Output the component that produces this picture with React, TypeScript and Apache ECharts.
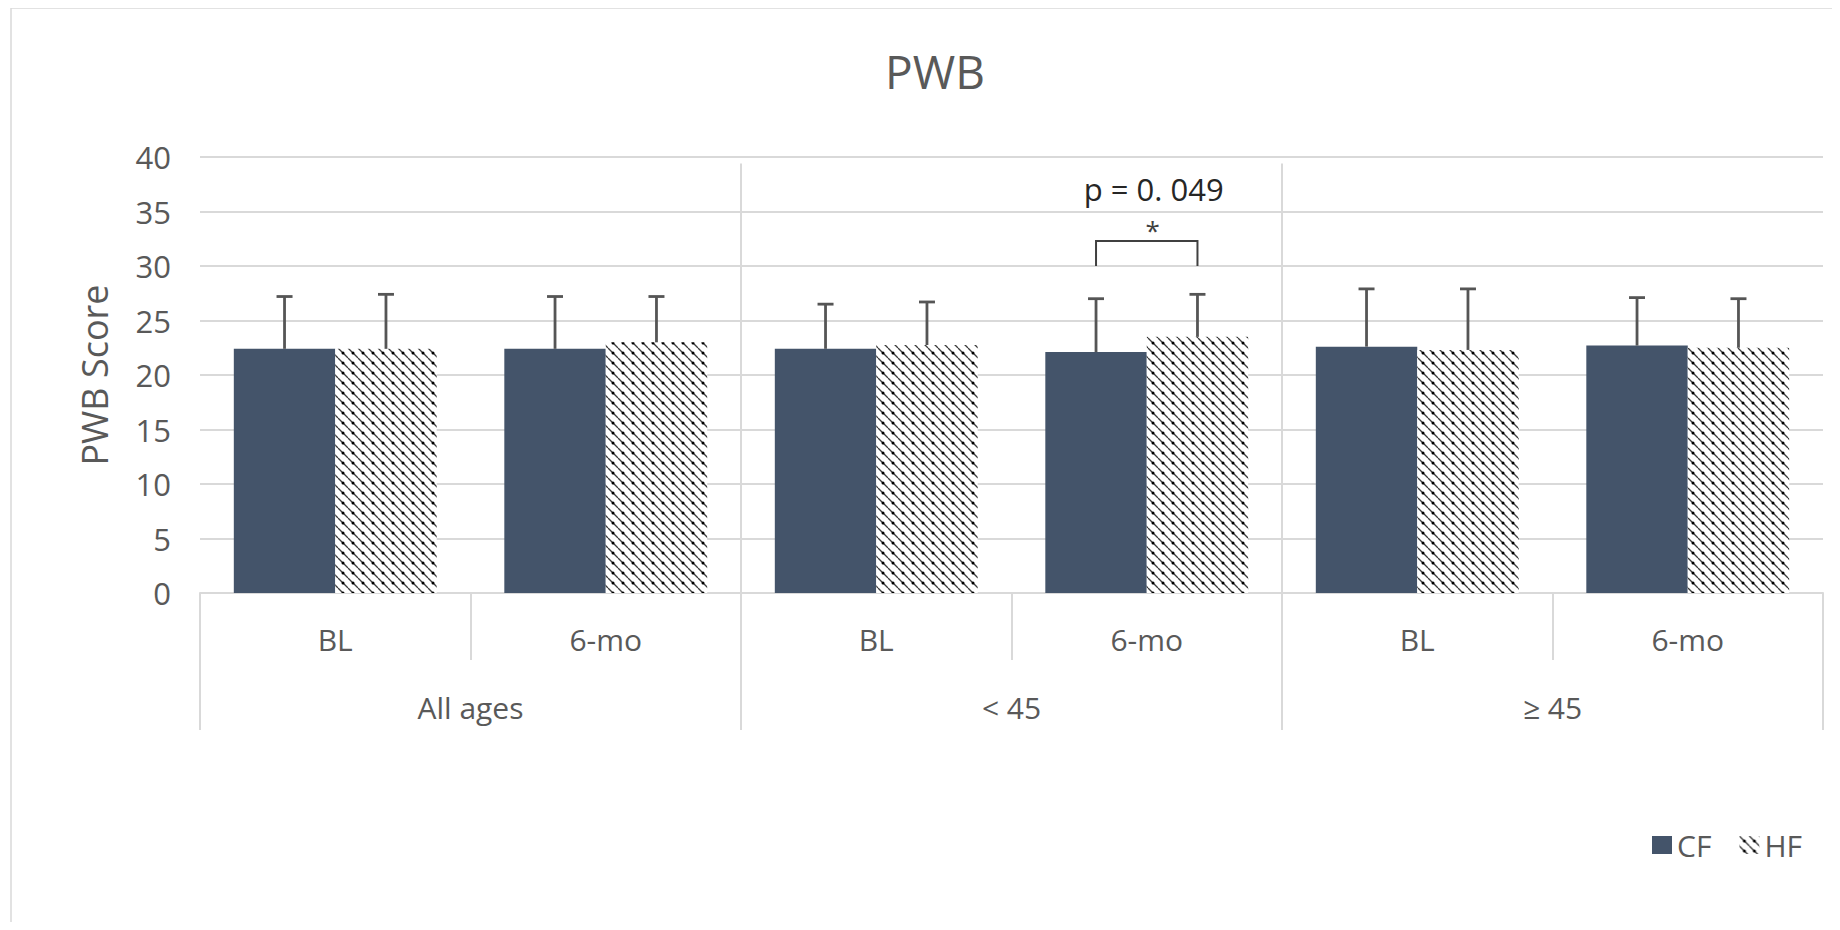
import React, { useEffect, useRef } from 'react';
import * as echarts from 'echarts';

// ---- data ----
const categories = ['BL', '6-mo', 'BL', '6-mo', 'BL', '6-mo'];
const groups = ['All ages', '< 45', '≥ 45'];
const groupBoundaryStarts = [2, 4];
const seriesNames = ['CF', 'HF'];
const cfMean = [22.4, 22.4, 22.4, 22.1, 22.6, 22.7];
const cfSD = [4.8, 4.8, 4.1, 4.9, 5.3, 4.4];
const hfMean = [22.4, 23.0, 22.75, 23.5, 22.3, 22.5];
const hfSD = [5.0, 4.2, 3.95, 3.9, 5.6, 4.5];
const yMin = 0;
const yMax = 40;
const yInterval = 5;
const sigCategory = 3;
const bracketBottom = 30.0;
const bracketTop = 32.3;
const starValue = 33.3;
const pValue = 37.1;
const starText = '*';
const pText = 'p = 0. 049';
const separatorTop = 39.4;

const FONT = '"Open Sans", "Noto Sans", sans-serif';
const CF_COLOR = '#44546A';
const GRID_COLOR = '#D9D9D9';
const LABEL_COLOR = '#595959';

function makePattern(): HTMLCanvasElement {
  const c = document.createElement('canvas');
  const s = 10;
  c.width = s;
  c.height = s;
  const ctx = c.getContext('2d')!;
  ctx.fillStyle = '#ffffff';
  ctx.fillRect(0, 0, s, s);
  ctx.strokeStyle = '#3c3c3c';
  ctx.lineWidth = 1.3;
  for (const off of [-s, 0, s]) {
    ctx.beginPath();
    ctx.moveTo(0, off);
    ctx.lineTo(s, off + s);
    ctx.stroke();
  }
  ctx.fillStyle = '#000000';
  ctx.beginPath();
  ctx.arc(5, 5, 1.5, 0, Math.PI * 2);
  ctx.fill();
  return c;
}

export default function App() {
  const ref = useRef<HTMLDivElement>(null);

  useEffect(() => {
    if (!ref.current) return;
    const chart = echarts.init(ref.current, undefined, { renderer: 'svg' });
    const pattern = makePattern();
    const hfFill: any = { image: pattern, repeat: 'repeat' };

    const errData: number[][] = [];
    categories.forEach((_, i) => {
      errData.push([i, cfMean[i], cfMean[i] + cfSD[i], -1]);
      errData.push([i, hfMean[i], hfMean[i] + hfSD[i], 1]);
    });

    const option: any = {
      animation: false,
      textStyle: { fontFamily: FONT },
      title: {
        text: 'PWB',
        left: 922,
        top: 35,
        textAlign: 'center',
        textStyle: { fontFamily: FONT, fontSize: 46, fontWeight: 'normal', color: LABEL_COLOR },
      },
      legend: {
        data: seriesNames,
        left: 1644,
        top: 822,
        padding: 0,
        itemWidth: 20,
        itemHeight: 18,
        itemGap: 28,
        icon: 'rect',
        textStyle: { fontFamily: FONT, fontSize: 30, color: LABEL_COLOR },
      },
      graphic: [
        {
          type: 'rect',
          silent: true,
          shape: { x: 3, y: 0, width: 1900, height: 1000 },
          style: { fill: 'none', stroke: GRID_COLOR, lineWidth: 1.5 },
          z: -10,
        },
      ],
      grid: { left: 192, right: 9, top: 149, bottom: 329 },
      xAxis: [
        {
          type: 'category',
          data: categories,
          position: 'bottom',
          axisLine: { show: true, lineStyle: { color: GRID_COLOR, width: 2 } },
          axisTick: { show: true, length: 67, lineStyle: { color: GRID_COLOR, width: 2 } },
          axisLabel: { margin: 31, fontFamily: FONT, fontSize: 30, color: LABEL_COLOR },
          splitLine: { show: false },
        },
        {
          type: 'category',
          data: groups,
          position: 'bottom',
          axisLine: { show: false },
          axisTick: { show: true, length: 137, lineStyle: { color: GRID_COLOR, width: 2 } },
          axisLabel: { margin: 99, fontFamily: FONT, fontSize: 30, color: LABEL_COLOR },
          splitLine: { show: false },
        },
      ],
      yAxis: {
        type: 'value',
        min: yMin,
        max: yMax,
        interval: yInterval,
        name: 'PWB Score',
        nameLocation: 'middle',
        nameGap: 88,
        nameTextStyle: { fontFamily: FONT, fontSize: 36, color: LABEL_COLOR },
        axisLine: { show: false },
        axisTick: { show: false },
        axisLabel: { margin: 29, fontFamily: FONT, fontSize: 31, color: LABEL_COLOR },
        splitLine: { show: true, lineStyle: { color: GRID_COLOR, width: 2 } },
      },
      series: [
        {
          name: 'CF',
          type: 'bar',
          data: cfMean,
          barGap: '0%',
          barCategoryGap: '25%',
          itemStyle: { color: CF_COLOR },
          z: 2,
        },
        {
          name: 'HF',
          type: 'bar',
          data: hfMean,
          barGap: '0%',
          barCategoryGap: '25%',
          itemStyle: { color: hfFill },
          z: 2,
        },
        {
          type: 'custom',
          name: 'separators',
          data: groupBoundaryStarts.map((c) => [c, 0, separatorTop]),
          encode: { x: 0, y: [1, 2] },
          z: 1,
          silent: true,
          renderItem: (params: any, api: any) => {
            const cat = api.value(0);
            const band = api.size([1, 0])[0];
            const p0 = api.coord([cat, api.value(1)]);
            const p1 = api.coord([cat, api.value(2)]);
            const x = p0[0] - band / 2;
            return {
              type: 'line',
              shape: { x1: x, y1: p0[1], x2: x, y2: p1[1] },
              style: { stroke: GRID_COLOR, lineWidth: 2 },
            };
          },
        },
        {
          type: 'custom',
          name: 'errors',
          data: errData,
          encode: { x: 0, y: [1, 2] },
          z: 5,
          silent: true,
          renderItem: (params: any, api: any) => {
            const cat = api.value(0);
            const side = api.value(3);
            const band = api.size([1, 0])[0];
            const p0 = api.coord([cat, api.value(1)]);
            const p1 = api.coord([cat, api.value(2)]);
            const x = p0[0] + side * band * 0.1875;
            const st = { stroke: '#555555', lineWidth: 2.8 };
            return {
              type: 'group',
              children: [
                { type: 'line', shape: { x1: x, y1: p0[1], x2: x, y2: p1[1] }, style: st },
                { type: 'line', shape: { x1: x - 8, y1: p1[1], x2: x + 8, y2: p1[1] }, style: st },
              ],
            };
          },
        },
        {
          type: 'custom',
          name: 'significance',
          data: [[sigCategory, bracketBottom, bracketTop, starValue, pValue]],
          encode: { x: 0, y: [1, 2, 3, 4] },
          z: 6,
          silent: true,
          clip: false,
          renderItem: (params: any, api: any) => {
            const cat = api.value(0);
            const band = api.size([1, 0])[0];
            const pb = api.coord([cat, api.value(1)]);
            const pt = api.coord([cat, api.value(2)]);
            const ps = api.coord([cat, api.value(3)]);
            const pp = api.coord([cat, api.value(4)]);
            const xL = pb[0] - band * 0.1875;
            const xR = pb[0] + band * 0.1875;
            return {
              type: 'group',
              children: [
                {
                  type: 'polyline',
                  shape: { points: [[xL, pb[1]], [xL, pt[1]], [xR, pt[1]], [xR, pb[1]]] },
                  style: { stroke: '#404040', lineWidth: 2, fill: 'none' },
                },
                {
                  type: 'text',
                  x: pb[0] + 6,
                  y: ps[1],
                  style: {
                    text: starText,
                    fontFamily: FONT,
                    fontSize: 26,
                    fill: '#404040',
                    align: 'center',
                    verticalAlign: 'middle',
                  },
                },
                {
                  type: 'text',
                  x: pb[0] + 7,
                  y: pp[1],
                  style: {
                    text: pText,
                    fontFamily: FONT,
                    fontSize: 31,
                    fill: '#262626',
                    align: 'center',
                    verticalAlign: 'middle',
                  },
                },
              ],
            };
          },
        },
      ],
    };
    chart.setOption(option);
    return () => chart.dispose();
  }, []);

  return <div ref={ref} style={{ width: 1824, height: 914 }} />;
}
